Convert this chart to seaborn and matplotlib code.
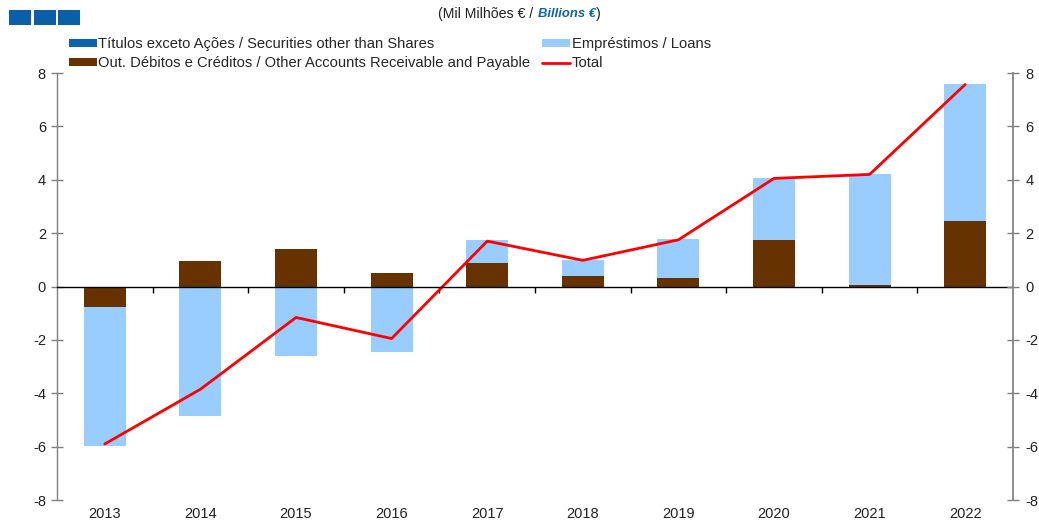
import numpy as np
import pandas as pd
import matplotlib
matplotlib.use("Agg")
import matplotlib.pyplot as plt
import seaborn as sns
from matplotlib.patches import Rectangle, Patch
from matplotlib.lines import Line2D
from matplotlib.ticker import FixedLocator

# ---- data ----
years = ["2013", "2014", "2015", "2016", "2017", "2018", "2019", "2020", "2021", "2022"]
securities = [0.0, 0.0, 0.0, 0.0, 0.0, 0.0, 0.0, 0.0, 0.0, 0.0]
other_accounts = [-0.77, 0.95, 1.42, 0.52, 0.88, 0.41, 0.31, 1.76, 0.05, 2.46]
loans = [-5.19, -4.86, -2.61, -2.46, 0.85, 0.59, 1.48, 2.30, 4.16, 5.11]
total = [-5.90, -3.85, -1.16, -1.95, 1.70, 0.98, 1.75, 4.05, 4.20, 7.57]
yticks = [-8, -6, -4, -2, 0, 2, 4, 6, 8]

labels = {
    "sec": "Títulos exceto Ações / Securities other than Shares",
    "oth": "Out. Débitos e Créditos / Other Accounts Receivable and Payable",
    "loa": "Empréstimos / Loans",
    "tot": "Total",
}
colors = {"sec": "#0b63b0", "oth": "#663300", "loa": "#99ccff", "tot": "#ff0000"}

sns.set_theme(style="white")
plt.rcParams["font.family"] = ["Liberation Sans", "DejaVu Sans"]
plt.rcParams["axes.unicode_minus"] = False

W, H = 1039, 520
fig = plt.figure(figsize=(W / 100, H / 100), dpi=100)
ax = fig.add_axes([57 / W, 20 / H, 956 / W, 427 / H])

# ---- stacked bars (positives and negatives stacked separately) ----
n = len(years)
pos = np.zeros(n)
neg = np.zeros(n)
for key, vals in [("sec", securities), ("oth", other_accounts), ("loa", loans)]:
    v = np.array(vals, dtype=float)
    bottom = np.where(v >= 0, pos, neg)
    df = pd.DataFrame({"year": years, "value": v})
    sns.barplot(data=df, x="year", y="value", color=colors[key], saturation=1,
                width=0.44, errorbar=None, bottom=bottom, linewidth=0, ax=ax)
    pos += np.where(v >= 0, v, 0)
    neg += np.where(v < 0, v, 0)

dft = pd.DataFrame({"year": years, "total": total})
sns.lineplot(data=dft, x="year", y="total", color=colors["tot"], linewidth=2.0,
             sort=False, ax=ax)

ax.set_xlim(-0.5, n - 0.5)
ax.set_ylim(-8, 8)
ax.set_yticks(yticks)
ax.set_xlabel("")
ax.set_ylabel("")

# spines
for s in ["top", "right"]:
    ax.spines[s].set_visible(False)
ax.spines["left"].set_color("#808080")
ax.spines["left"].set_linewidth(1.0)
ax.spines["bottom"].set_position(("data", 0))
ax.spines["bottom"].set_color("#000000")
ax.spines["bottom"].set_linewidth(1.0)

ax.xaxis.set_minor_locator(FixedLocator(np.arange(0.5, n - 1, 1.0)))
ax.tick_params(axis="x", which="major", length=0, labelbottom=False)
ax.tick_params(axis="x", which="minor", length=4, width=1, color="#000000", direction="out", bottom=True)
ax.tick_params(axis="y", which="major", direction="inout", length=8, width=1, color="#808080",
               labelsize=10.5, labelcolor="#222222", pad=4, left=True)

# right axis
ax2 = ax.twinx()
ax2.set_ylim(-8, 8)
ax2.set_yticks(yticks)
for s in ["top", "left", "bottom"]:
    ax2.spines[s].set_visible(False)
ax2.spines["right"].set_color("#808080")
ax2.tick_params(axis="y", direction="inout", length=8, width=1, color="#808080",
                labelsize=10.5, labelcolor="#222222", pad=5, right=True)
ax2.xaxis.set_visible(True)
ax2.tick_params(axis="x", which="major", length=0, labelbottom=True, labelsize=10.5,
                labelcolor="#222222", pad=5)
ax2.tick_params(axis="x", which="minor", length=0)

# ---- legend ----
handles = [
    Patch(facecolor=colors["sec"], edgecolor="none", label=labels["sec"]),
    Patch(facecolor=colors["oth"], edgecolor="none", label=labels["oth"]),
    Patch(facecolor=colors["loa"], edgecolor="none", label=labels["loa"]),
    Line2D([], [], color=colors["tot"], linewidth=2.0, label=labels["tot"]),
]
fig.legend(handles=handles, ncol=2, loc="upper left", bbox_to_anchor=(69 / W, 1 - 37 / H),
           frameon=False, fontsize=10.6, handlelength=1.9, handleheight=0.42,
           handletextpad=0.1, columnspacing=0.8, labelspacing=0.35, borderpad=0,
           borderaxespad=0)

# ---- header ----
fig.text(537 / W, 1 - 14 / H, "(Mil Milhões € / ", ha="right", va="center", fontsize=10.2, color="#222222")
fig.text(538 / W, 1 - 14 / H, "Billions €", ha="left", va="center", fontsize=9.4,
         color="#0b63b0", fontweight="bold", fontstyle="italic")
fig.text(596 / W, 1 - 14 / H, ")", ha="left", va="center", fontsize=10.2, color="#222222")

for x0 in [9, 34, 58]:
    fig.patches.append(Rectangle((x0 / W, 1 - 25 / H), 22 / W, 15 / H,
                                 transform=fig.transFigure, facecolor="#0b5ea8",
                                 edgecolor="none"))

fig.savefig("out.png", dpi=100)
